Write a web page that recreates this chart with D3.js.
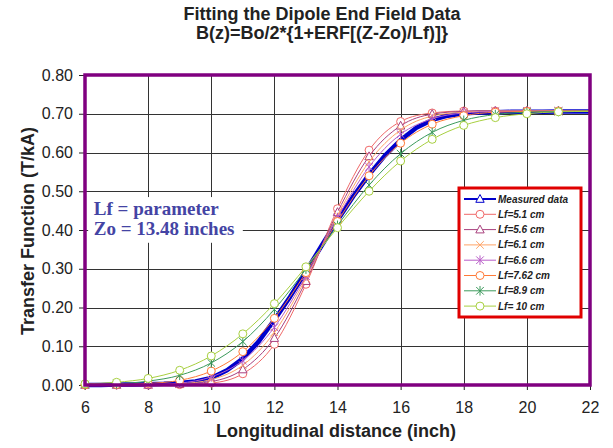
<!DOCTYPE html>
<html>
<head>
<meta charset="utf-8">
<title>Dipole end field fit</title>
<script src="https://d3js.org/d3.v7.min.js"></script>
<style>
  body { margin: 0; background: #fff; }
  text { font-family: "Liberation Sans", Arial, sans-serif; fill: #222; }
  .grid line { stroke: #333; stroke-width: 1; shape-rendering: crispEdges; }
  .fit path.line { fill: none; stroke-width: 1; }
  .legend text { font-size: 10px; font-weight: bold; font-style: italic; }
</style>
</head>
<body>
<script>
// longitudinal positions (inch)
var zFit = [6,7,8,9,10,11,12,13,14,15,16,17,18,19,20,21,22];
var zMeas = [6,6.5,7,7.5,8,8.5,9,9.5,10,10.5,11,11.5,12,12.5,13,13.5,14,14.5,15,15.5,16,16.5,17,17.5,18,18.5,19,19.5,20,20.5,21,21.5,22];

// transfer function (T/kA)
var measured = [0.000,0.000,0.001,0.001,0.002,0.003,0.005,0.009,0.018,0.038,0.068,0.112,0.168,0.228,0.293,0.360,0.425,0.487,0.543,0.592,0.632,0.664,0.684,0.695,0.701,0.703,0.704,0.705,0.705,0.705,0.706,0.706,0.706];
var fit51  = [0.000,0.000,0.000,0.001,0.005,0.029,0.105,0.260,0.455,0.606,0.680,0.702,0.707,0.707,0.707,0.707,0.707];
var fit56  = [0.000,0.000,0.000,0.002,0.009,0.040,0.121,0.268,0.446,0.590,0.669,0.699,0.706,0.707,0.707,0.707,0.707];
var fit61  = [0.000,0.000,0.000,0.003,0.014,0.051,0.136,0.275,0.438,0.576,0.658,0.694,0.704,0.707,0.707,0.707,0.707];
var fit66  = [0.000,0.000,0.001,0.005,0.021,0.063,0.149,0.281,0.432,0.563,0.647,0.687,0.702,0.706,0.707,0.707,0.707];
var fit762 = [0.000,0.001,0.004,0.012,0.036,0.086,0.172,0.290,0.422,0.540,0.624,0.673,0.695,0.704,0.706,0.707,0.707];
var fit89  = [0.001,0.003,0.010,0.025,0.057,0.112,0.195,0.299,0.412,0.516,0.597,0.652,0.683,0.698,0.704,0.706,0.707];
var fit10  = [0.003,0.007,0.017,0.038,0.075,0.132,0.210,0.305,0.406,0.500,0.578,0.634,0.670,0.690,0.700,0.705,0.706];

var fitNames = ['Lf=5.1 cm','Lf=5.6 cm','Lf=6.1 cm','Lf=6.6 cm','Lf=7.62 cm','Lf=8.9 cm','Lf= 10 cm'];
var xTicks = [6,8,10,12,14,16,18,20,22];
var yTicks = [0,0.1,0.2,0.3,0.4,0.5,0.6,0.7,0.8];

var w = 613, h = 448;
var margin = {top: 75, right: 23, bottom: 63, left: 85};
var innerW = w - margin.left - margin.right,
    innerH = h - margin.top - margin.bottom;

var x = d3.scaleLinear().domain([6, 22]).range([0, innerW]);
var y = d3.scaleLinear().domain([0, 0.8]).range([innerH, 0]);

// marker shapes, drawn around 0,0
var marks = {
  circle: 'M4,0A4,4 0 1,1 -4,0A4,4 0 1,1 4,0Z',
  triangle: 'M0,-4.5L4.2,3.3L-4.2,3.3Z',
  x: 'M-3.8,-3.8L3.8,3.8M-3.8,3.8L3.8,-3.8',
  star: 'M-3.8,-3.8L3.8,3.8M-3.8,3.8L3.8,-3.8M0,-4.8L0,4.8'
};

var fits = [
  {name: fitNames[0], values: fit51,  color: '#f06868', mark: 'circle'},
  {name: fitNames[1], values: fit56,  color: '#a8407e', mark: 'triangle'},
  {name: fitNames[2], values: fit61,  color: '#ffa466', mark: 'x'},
  {name: fitNames[3], values: fit66,  color: '#b85cc8', mark: 'star'},
  {name: fitNames[4], values: fit762, color: '#ff7a38', mark: 'circle'},
  {name: fitNames[5], values: fit89,  color: '#3c9a5c', mark: 'star'},
  {name: fitNames[6], values: fit10,  color: '#a8d040', mark: 'circle'}
];

var svg = d3.select('body').append('svg')
    .attr('width', w)
    .attr('height', h);

// title
svg.append('text')
    .attr('x', 322).attr('y', 20)
    .attr('text-anchor', 'middle')
    .style('font-size', '18px').style('font-weight', 'bold')
    .text('Fitting the Dipole End Field Data');
svg.append('text')
    .attr('x', 322).attr('y', 39)
    .attr('text-anchor', 'middle')
    .style('font-size', '18px').style('font-weight', 'bold')
    .text('B(z)=Bo/2*{1+ERF[(Z-Zo)/Lf)]}');

var g = svg.append('g')
    .attr('transform', 'translate(' + [margin.left, margin.top] + ')');

// grid
var grid = g.append('g').attr('class', 'grid');
grid.selectAll('.hy')
    .data(yTicks)
  .enter().append('line')
    .attr('x1', 0).attr('x2', innerW)
    .attr('y1', function(d) { return Math.round(y(d)) + 0.5; })
    .attr('y2', function(d) { return Math.round(y(d)) + 0.5; });
grid.selectAll('.vx')
    .data(xTicks)
  .enter().append('line')
    .attr('y1', 0).attr('y2', innerH)
    .attr('x1', function(d) { return Math.round(x(d)) + 0.5; })
    .attr('x2', function(d) { return Math.round(x(d)) + 0.5; });

// axes
var yAxis = d3.axisLeft(y).tickValues(yTicks).tickFormat(d3.format('.2f')).tickSize(6).tickPadding(6);
var xAxis = d3.axisBottom(x).tickValues(xTicks).tickSize(5).tickPadding(12);
g.append('g').attr('class', 'y axis').call(yAxis)
    .call(function(s) { s.select('.domain').remove(); s.selectAll('text').style('font-size', '16px'); });
g.append('g').attr('class', 'x axis')
    .attr('transform', 'translate(0,' + innerH + ')')
    .call(xAxis)
    .call(function(s) { s.select('.domain').remove(); s.selectAll('text').style('font-size', '16px'); });
g.selectAll('.tick line').attr('stroke', '#222');

// text box
g.append('rect')
    .attr('x', x(6.1)).attr('y', y(0.485))
    .attr('width', x(11) - x(6.1)).attr('height', y(0.367) - y(0.485))
    .attr('fill', '#fff');
g.append('text')
    .attr('x', x(6.28)).attr('y', y(0.438))
    .style('font-family', '"Liberation Serif", "Times New Roman", serif')
    .style('font-size', '19px').style('font-weight', 'bold').style('fill', '#4444a4')
    .text('Lf = parameter');
g.append('text')
    .attr('x', x(6.28)).attr('y', y(0.386))
    .style('font-family', '"Liberation Serif", "Times New Roman", serif')
    .style('font-size', '19px').style('font-weight', 'bold').style('fill', '#4444a4')
    .text('Zo = 13.48 inches');

// measured data
var lineMeas = d3.line()
    .x(function(d, i) { return x(zMeas[i]); })
    .y(function(d) { return y(d); });
g.append('path')
    .datum(measured)
    .attr('d', lineMeas)
    .attr('fill', 'none')
    .attr('stroke', '#0000cc')
    .attr('stroke-width', 4.5)
    .attr('stroke-linejoin', 'round');

// fitted curves
var lineFit = d3.line()
    .curve(d3.curveMonotoneX)
    .x(function(d, i) { return x(zFit[i]); })
    .y(function(d) { return y(d); });
var series = g.selectAll('.fit')
    .data(fits)
  .enter().append('g')
    .attr('class', 'fit');
series.append('path')
    .attr('class', 'line')
    .attr('d', function(d) { return lineFit(d.values); })
    .attr('stroke', function(d) { return d.color; });
series.each(function(s) {
  d3.select(this).selectAll('.pt')
      .data(s.values.slice(0, zFit.length - 1))
    .enter().append('path')
      .attr('class', 'pt')
      .attr('transform', function(d, i) { return 'translate(' + [x(zFit[i]), y(d)] + ')'; })
      .attr('d', marks[s.mark])
      .attr('fill', s.mark === 'circle' || s.mark === 'triangle' ? '#fff' : 'none')
      .attr('stroke', s.color)
      .attr('stroke-width', 1);
});

// plot frame
g.append('rect')
    .attr('x', 0).attr('y', 0)
    .attr('width', innerW).attr('height', innerH)
    .attr('fill', 'none')
    .attr('stroke', '#800080')
    .attr('stroke-width', 3.5);

// axis titles
svg.append('text')
    .attr('x', 336).attr('y', 437)
    .attr('text-anchor', 'middle')
    .style('font-size', '18px').style('font-weight', 'bold')
    .text('Longitudinal distance (inch)');
svg.append('text')
    .attr('transform', 'translate(34,231) rotate(-90)')
    .attr('text-anchor', 'middle')
    .style('font-size', '18px').style('font-weight', 'bold')
    .text('Transfer Function (T/kA)');

// legend
var legend = svg.append('g').attr('class', 'legend')
    .attr('transform', 'translate(459,188)');
legend.append('rect')
    .attr('width', 122).attr('height', 129)
    .attr('fill', '#fff')
    .attr('stroke', '#e00000')
    .attr('stroke-width', 3);
var items = [{name: 'Measured data', color: '#0000cc', mark: 'triangle', width: 2}]
    .concat(fits.map(function(f) { return {name: f.name, color: f.color, mark: f.mark, width: 1}; }));
var item = legend.selectAll('.item')
    .data(items)
  .enter().append('g')
    .attr('class', 'item')
    .attr('transform', function(d, i) { return 'translate(0,' + (11 + i * 15.3) + ')'; });
item.append('line')
    .attr('x1', 5).attr('x2', 37)
    .attr('stroke', function(d) { return d.color; })
    .attr('stroke-width', function(d) { return d.width; });
item.append('path')
    .attr('transform', 'translate(21,0)')
    .attr('d', function(d) { return marks[d.mark]; })
    .attr('fill', function(d) { return d.mark === 'circle' || d.mark === 'triangle' ? '#fff' : 'none'; })
    .attr('stroke', function(d) { return d.color; });
item.append('text')
    .attr('x', 39).attr('dy', '0.35em')
    .text(function(d) { return d.name; });
</script>
</body>
</html>
